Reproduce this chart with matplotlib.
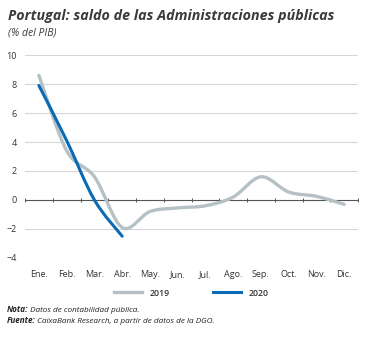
import numpy as np
import matplotlib.pyplot as plt
from matplotlib.path import Path
from matplotlib.patches import PathPatch
from matplotlib.transforms import offset_copy

months = ["Ene.", "Feb.", "Mar.", "Abr.", "May.", "Jun.",
          "Jul.", "Ago.", "Sep.", "Oct.", "Nov.", "Dic."]
saldo_2019 = [8.6, 3.4, 1.6, -1.9, -0.8, -0.55, -0.4, 0.2, 1.6, 0.55, 0.25, -0.3]
saldo_2020 = [7.9, 4.1, 0.0, -2.5]
yticks = [-4, -2, 0, 2, 4, 6, 8, 10]

GREY = "#b5c1c5"
BLUE = "#0a6ab4"

plt.rcParams["font.family"] = ["Open Sans", "DejaVu Sans"]


def smooth_path(xs, ys, tension=6.0):
    # Catmull-Rom style bezier through the points (the chart uses smoothed lines)
    pts = np.column_stack([xs, ys]).astype(float)
    verts = [pts[0]]
    codes = [Path.MOVETO]
    n = len(pts)
    for i in range(n - 1):
        p0 = pts[i - 1] if i > 0 else pts[i]
        p1, p2 = pts[i], pts[i + 1]
        p3 = pts[i + 2] if i + 2 < n else pts[i + 1]
        c1 = p1 + (p2 - p0) / tension
        c2 = p2 - (p3 - p1) / tension
        verts += [c1, c2, p2]
        codes += [Path.CURVE4] * 3
    return Path(verts, codes)


fig = plt.figure(figsize=(3.68, 3.38), dpi=100)
ax = fig.add_axes([0.068, 0.237, 0.905, 0.6])

for y in yticks:
    if y != 0:
        ax.axhline(y, color="#d6d6d6", lw=0.8, zorder=0)
ax.axhline(0, color="#555555", lw=0.8, zorder=1)
bounds = np.arange(-0.5, len(months), 1.0)
ax.plot(bounds, np.zeros_like(bounds), ls="none", marker="|", ms=3,
        mew=0.7, color="#555555", clip_on=False, zorder=1)

x19 = np.arange(len(saldo_2019))
x20 = np.arange(len(saldo_2020))
ax.add_patch(PathPatch(smooth_path(x19, saldo_2019), fill=False,
                       edgecolor=GREY, lw=2.4, capstyle="round", zorder=2))
ax.add_patch(PathPatch(smooth_path(x20, saldo_2020), fill=False,
                       edgecolor=BLUE, lw=2.2, capstyle="round", zorder=3))
# proxies for the legend
ax.plot([], [], color=GREY, lw=2.4, label="2019")
ax.plot([], [], color=BLUE, lw=2.2, label="2020")

ax.set_xlim(-0.5, 11.5)
ax.set_ylim(-4, 10)
ax.set_yticks(yticks)
ax.set_xticks(x19)
ax.set_xticklabels(months)
ax.tick_params(axis="both", length=0, labelsize=6.5, colors="#333333")
ax.tick_params(axis="x", pad=9)
ax.tick_params(axis="y", pad=6)
for s in ax.spines.values():
    s.set_visible(False)

fig.text(0.022, 0.94, "Portugal: saldo de las Administraciones públicas",
         fontsize=10.3, fontweight="bold", style="italic", color="#3a3a3a")
fig.text(0.022, 0.895, "(% del PIB)", fontsize=7.5, style="italic", color="#3a3a3a")

leg = fig.legend(loc="center", bbox_to_anchor=(0.52, 0.133), ncol=2, frameon=False,
                 handlelength=3.2, columnspacing=5, fontsize=6.3)
for t in leg.get_texts():
    t.set_fontweight("semibold")
    t.set_color("#333333")

# notes: bold label followed by regular italic text
renderer = fig.canvas.get_renderer()
for ypos, label, body in [(0.078, "Nota:", "Datos de contabilidad pública."),
                          (0.045, "Fuente:", "CaixaBank Research, a partir de datos de la DGO.")]:
    t = fig.text(0.018, ypos, label, fontsize=5.9, fontweight="bold",
                 style="italic", color="#222222")
    w = t.get_window_extent(renderer).width * 72 / fig.dpi
    fig.text(0.018, ypos, " " + body, fontsize=5.9, style="italic", color="#222222",
             transform=offset_copy(fig.transFigure, fig=fig, x=w, y=0, units="points"))

fig.savefig("out.png", dpi=100)
